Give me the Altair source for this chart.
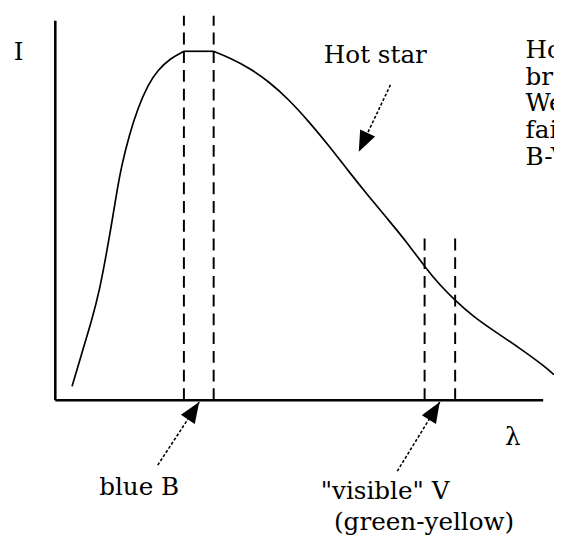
import math
import altair as alt
import pandas as pd

# ---- data (plot units: wavelength 0-100, intensity 0-100) ----
rise_x = [3.43, 5.45, 7.47, 9.09, 10.30, 11.52, 12.53, 13.54, 15.15, 16.97, 18.99, 21.01,
          23.64, 26.36]
rise_y = [3.64, 12.47, 21.04, 29.09, 37.40, 46.23, 54.29, 61.56, 69.87, 77.14, 83.12, 87.01,
          90.13, 91.95]
top_x = [26.36, 32.46]
top_y = [91.95, 91.95]
fall_x = [32.46, 35.96, 39.80, 43.84, 47.88, 51.92, 55.96, 60.00, 64.04, 68.08, 72.12,
          75.76, 78.99, 82.02, 85.66, 89.70, 95.15, 100.4, 102.2]
fall_y = [91.95, 90.13, 87.53, 83.90, 79.22, 73.51, 67.27, 60.52, 54.03, 47.79, 41.56,
          35.06, 30.13, 26.23, 22.08, 18.44, 13.77, 8.83, 6.75]

filter_x = [26.36, 32.46, 75.70, 81.96]
filter_top = [101.3, 101.3, 43.9, 43.9]

arrow_tail_x = [21.0, 70.1, 68.7]
arrow_tail_y = [-17.1, -18.7, 83.1]
arrow_tip_x = [29.5, 78.8, 62.2]
arrow_tip_y = [-0.5, -0.5, 65.5]

label_text = ["I", "Hot star", "\u03bb", "blue B", "\"visible\" V", "(green-yellow)"]
label_x = [-7.5, 65.6, 93.8, 17.2, 67.6, 75.6]
label_y = [89.6, 88.8, -11.9, -24.9, -26.0, -34.3]

note_lines = ["Hot star:", "bright in B,", "Weaker in V:", "faint", "B-V small"]
note_y = [90.1, 83.1, 76.1, 69.1, 62.1]
note_x = 96.4

# ---- geometry of the drawing ----
W, H = 554, 536
XR = [48, 543]
YR = [394, 9]
px_per_x = (XR[1] - XR[0]) / 100.0
px_per_y = (YR[0] - YR[1]) / 100.0

xs = alt.Scale(domain=[0, 100], range=XR, nice=False, zero=False)
ys = alt.Scale(domain=[0, 100], range=YR, nice=False, zero=False)
FONT = "DejaVu Serif"
FS = 25

axes_df = pd.DataFrame({"x": [0, 0], "y": [0, 0], "x2": [0, 100], "y2": [100, 0]})
axes = alt.Chart(axes_df).mark_rule(color="black", strokeWidth=2.6).encode(
    x=alt.X("x:Q", scale=xs, axis=None), y=alt.Y("y:Q", scale=ys, axis=None),
    x2="x2:Q", y2="y2:Q")

dash_df = pd.DataFrame({"x": filter_x, "y": [0] * 4, "y2": filter_top})
dashes = alt.Chart(dash_df).mark_rule(color="black", strokeWidth=2, strokeDash=[12, 7]).encode(
    x=alt.X("x:Q", scale=xs, axis=None), y=alt.Y("y:Q", scale=ys, axis=None), y2="y2:Q")

curve_df = pd.concat([
    pd.DataFrame({"x": rise_x, "y": rise_y, "seg": "rise"}),
    pd.DataFrame({"x": top_x, "y": top_y, "seg": "top"}),
    pd.DataFrame({"x": fall_x, "y": fall_y, "seg": "fall"}),
], ignore_index=True)
curve = alt.Chart(curve_df).mark_line(color="black", strokeWidth=1.7, interpolate="basis").encode(
    x=alt.X("x:Q", scale=xs, axis=None), y=alt.Y("y:Q", scale=ys, axis=None),
    detail="seg:N", order="x:Q")

angles = []
for tx, ty, hx, hy in zip(arrow_tail_x, arrow_tail_y, arrow_tip_x, arrow_tip_y):
    dx = (hx - tx) * px_per_x
    dy = -(hy - ty) * px_per_y
    angles.append(math.degrees(math.atan2(dx, -dy)) % 360)

arr_df = pd.DataFrame({"x": arrow_tail_x, "y": arrow_tail_y, "x2": arrow_tip_x,
                       "y2": arrow_tip_y, "angle": angles})
shafts = alt.Chart(arr_df).mark_rule(color="black", strokeWidth=1.6, strokeDash=[3, 2]).encode(
    x=alt.X("x:Q", scale=xs, axis=None), y=alt.Y("y:Q", scale=ys, axis=None),
    x2="x2:Q", y2="y2:Q")
heads = alt.Chart(arr_df).mark_point(shape="M0,0L0.8,2L-0.8,2Z", filled=True, opacity=1,
                                     color="black", size=440, strokeWidth=0).encode(
    x=alt.X("x2:Q", scale=xs, axis=None), y=alt.Y("y2:Q", scale=ys, axis=None),
    angle=alt.Angle("angle:Q", scale=None))

lab_df = pd.DataFrame({"x": label_x, "y": label_y, "t": label_text})
labels = alt.Chart(lab_df).mark_text(font=FONT, fontSize=FS, color="black", align="center",
                                     baseline="alphabetic").encode(
    x=alt.X("x:Q", scale=xs, axis=None), y=alt.Y("y:Q", scale=ys, axis=None), text="t:N")

note_df = pd.DataFrame({"x": [note_x] * len(note_lines), "y": note_y, "t": note_lines})
notes = alt.Chart(note_df).mark_text(font=FONT, fontSize=FS, color="black", align="left",
                                     baseline="alphabetic").encode(
    x=alt.X("x:Q", scale=xs, axis=None), y=alt.Y("y:Q", scale=ys, axis=None), text="t:N")

chart = alt.layer(axes, dashes, curve, shafts, heads, labels, notes).properties(
    width=W, height=H, padding=0, autosize=alt.AutoSizeParams(type="none"),
    background="white").configure_view(stroke=None)

chart.save("out.html", embed_options={"renderer": "svg", "actions": False})
